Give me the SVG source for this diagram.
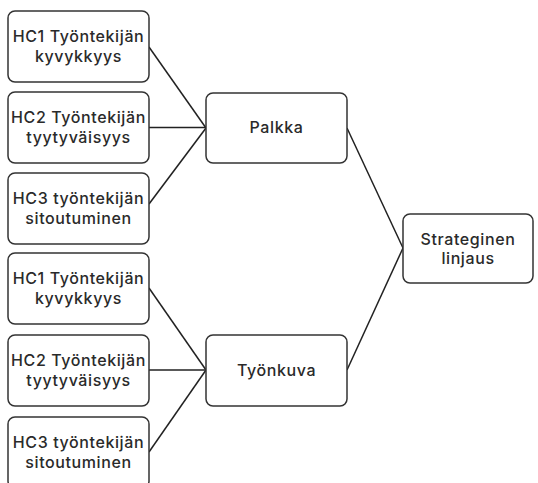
<svg xmlns="http://www.w3.org/2000/svg" width="538" height="483" viewBox="0 0 538 483">
<style>
.box{fill:#fff;stroke:#333;stroke-width:1.5}
.t{font-family:Inter,"DejaVu Sans","Liberation Sans",sans-serif;font-size:16px;font-weight:500;letter-spacing:0.6px;fill:#2a2a2a;text-anchor:middle}
.c{stroke:#222;stroke-width:1.5;fill:none}
</style>
<rect width="538" height="483" fill="#fff"/>
<g id="connectors">
<line class="c" x1="149" y1="47" x2="206" y2="128"/>
<line class="c" x1="149" y1="127.5" x2="206" y2="127.5" stroke="#666"/>
<line class="c" x1="149" y1="204" x2="206" y2="128"/>
<line class="c" x1="149" y1="288" x2="206" y2="370"/>
<line class="c" x1="149" y1="370" x2="206" y2="370" stroke="#666"/>
<line class="c" x1="149" y1="452" x2="206" y2="370"/>
<line class="c" x1="347" y1="128" x2="403" y2="248"/>
<line class="c" x1="347" y1="370" x2="403" y2="248"/>
</g>
<g id="n1"><rect class="box" x="8" y="11" width="141" height="71" rx="7"/><text class="t" x="78.5" y="42">HC1 Työntekijän</text><text class="t" x="78.5" y="62">kyvykkyys</text></g>
<g id="n2"><rect class="box" x="8" y="92" width="141" height="71" rx="7"/><text class="t" x="78.5" y="123">HC2 Työntekijän</text><text class="t" x="78.5" y="143">tyytyväisyys</text></g>
<g id="n3"><rect class="box" x="8" y="173" width="141" height="71" rx="7"/><text class="t" x="78.5" y="204">HC3 työntekijän</text><text class="t" x="78.5" y="224">sitoutuminen</text></g>
<g id="n4"><rect class="box" x="8" y="253" width="141" height="71" rx="7"/><text class="t" x="78.5" y="284">HC1 Työntekijän</text><text class="t" x="78.5" y="304">kyvykkyys</text></g>
<g id="n5"><rect class="box" x="8" y="335" width="141" height="71" rx="7"/><text class="t" x="78.5" y="366">HC2 Työntekijän</text><text class="t" x="78.5" y="386">tyytyväisyys</text></g>
<g id="n6"><rect class="box" x="8" y="417" width="141" height="71" rx="7"/><text class="t" x="78.5" y="448">HC3 työntekijän</text><text class="t" x="78.5" y="468">sitoutuminen</text></g>
<g id="palkka"><rect class="box" x="206" y="93" width="141" height="70" rx="7"/><text class="t" x="276.5" y="133">Palkka</text></g>
<g id="tyonkuva"><rect class="box" x="206" y="335" width="141" height="71" rx="7"/><text class="t" x="276.5" y="376">Työnkuva</text></g>
<g id="strateginen"><rect class="box" x="403" y="214" width="130" height="69" rx="7"/><text class="t" x="468" y="245">Strateginen</text><text class="t" x="468" y="264">linjaus</text></g>
</svg>
